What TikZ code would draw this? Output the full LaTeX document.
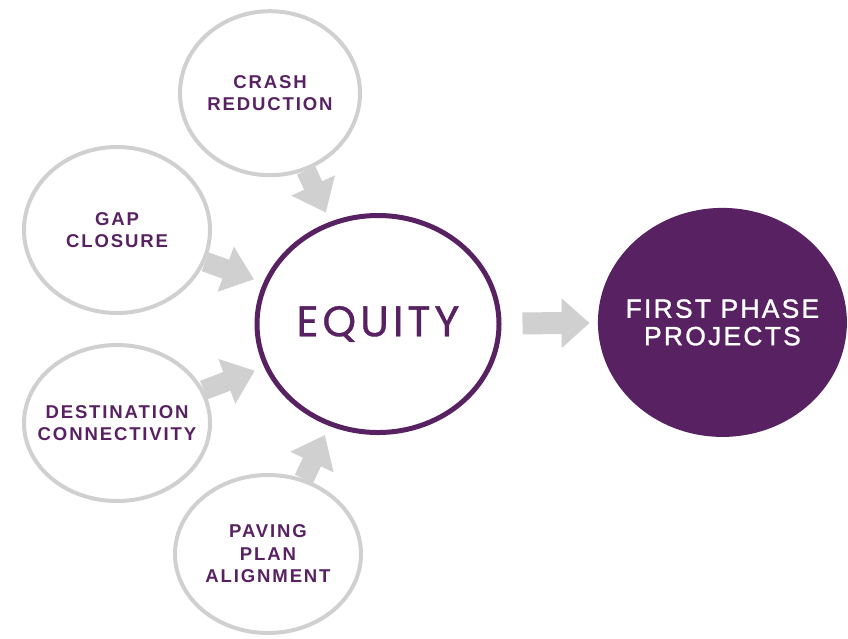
\documentclass[tikz,border=0pt]{standalone}
\usepackage{fontspec}
\setmainfont{Liberation Sans}
\newfontfamily\labelfont[LetterSpace=10]{Liberation Sans}
\newfontfamily\phasefont[LetterSpace=8.5,FakeBold=1.2]{Liberation Sans}
\newfontfamily\equityfont[LetterSpace=9,FakeBold=0.8]{Poppins}
\usepackage{tikz}
\usetikzlibrary{shapes,arrows.meta}
\definecolor{mpurple}{RGB}{88,34,98}
\definecolor{mgray}{RGB}{208,208,208}

\begin{document}
\begin{tikzpicture}
    \tikzstyle{bubble}=[ellipse,draw=mgray,line width=0.1cm,minimum width=4.65cm,minimum height=4.05cm,inner sep=0pt]
    \tikzstyle{tag}=[align=center,text=mpurple,font=\labelfont\bfseries\fontsize{13.2}{16}\selectfont]
    \tikzstyle{feed}=[draw=mgray,line width=0.5cm,-{Triangle[length=0.75cm,width=1.15cm]},shorten >=0.25cm]

    \useasboundingbox (0,0) rectangle (21.2,-15.95);

    % the four inputs
    \node[bubble,minimum width=4.5cm,minimum height=4.1cm] (crash) at (6.75,-2.33) {};
    \node[bubble,minimum height=4.15cm] (gap) at (2.925,-5.75) {};
    \node[bubble,minimum height=3.9cm] (dest) at (2.925,-10.575) {};
    \node[bubble,minimum height=3.95cm] (paving) at (6.7,-13.85) {};

    \node[tag] (crashtxt) at (crash) {CRASH\\REDUCTION};
    \node[tag] (gaptxt) at (gap) {GAP\\CLOSURE};
    \node[tag] (desttxt) at (dest) {DESTINATION\\CONNECTIVITY};
    \node[tag] (pavingtxt) at (paving) {PAVING\\PLAN\\ALIGNMENT};

    % centre and result
    \node[ellipse,draw=mpurple,line width=0.125cm,minimum width=6.05cm,minimum height=5.425cm,inner sep=0pt] (equity) at (9.45,-8.1) {};
    \node[text=mpurple,font=\equityfont\fontsize{30.5}{32}\selectfont] (equitytxt) at (equity) {EQUITY};
    \node[ellipse,fill=mpurple,minimum width=6.225cm,minimum height=5.725cm,inner sep=0pt] (first) at (18.06,-8.06) {};
    \node[align=center,text=white,font=\phasefont\fontsize{18.8}{19.5}\selectfont] (firsttxt) at (first) {FIRST PHASE\\PROJECTS};

    \path
    (crash) edge [feed] (equity)
    (gap) edge [feed] (equity)
    (dest) edge [feed] (equity)
    (paving) edge [feed] (equity)
    (equity) edge [feed,line width=0.55cm,-{Triangle[length=0.7cm,width=1.2cm]},shorten <=0.525cm,shorten >=0.2cm] (first);
\end{tikzpicture}
\end{document}
